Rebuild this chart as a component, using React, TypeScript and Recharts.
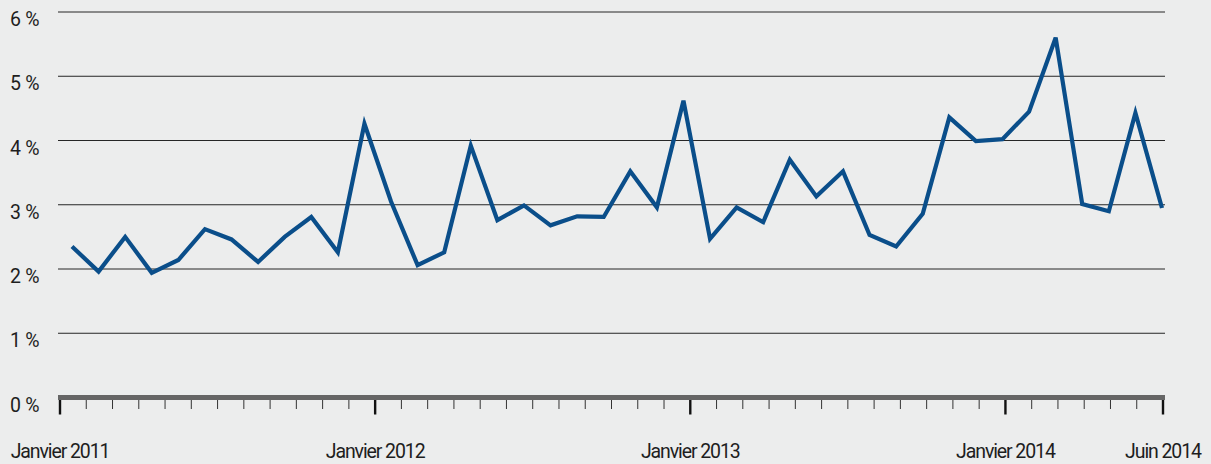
import { CartesianGrid, Line, LineChart, XAxis, YAxis } from "recharts";

// monthly rate, Jan 2011 .. Jun 2014 (%)
const rates = [
  2.35, 1.96, 2.5, 1.94, 2.14, 2.62, 2.46, 2.11, 2.5, 2.81, 2.26, 4.26,
  3.05, 2.06, 2.26, 3.92, 2.76, 2.99, 2.68, 2.82, 2.81, 3.52, 2.96, 4.62,
  2.47, 2.96, 2.73, 3.7, 3.13, 3.52, 2.53, 2.35, 2.86, 4.36, 3.99, 4.02,
  4.45, 5.6, 3.01, 2.9, 4.43, 2.95,
];

const majorTicks = [0, 12, 24, 36, 42];
const majorLabels = ["Janvier 2011", "Janvier 2012", "Janvier 2013", "Janvier 2014", "Juin 2014"];
const monthTicks = Array.from({ length: 43 }, (_, i) => i);
const pctTicks = [0, 1, 2, 3, 4, 5, 6];

const data = rates.map((rate, month) => ({ month, rate }));

const FONT = "Roboto, 'Liberation Sans', sans-serif";

function MonthTick({ x, y, payload }: any) {
  const k = majorTicks.indexOf(payload.value);
  const major = k >= 0;
  return (
    <g>
      <line
        x1={x}
        x2={x}
        y1={y + 2.5}
        y2={y + (major ? 17 : 11.5)}
        stroke={major ? "#111" : "#333"}
        strokeWidth={major ? 2.4 : 1}
      />
      {major && (
        <text
          x={x}
          y={y + 60}
          textAnchor="middle"
          fontFamily={FONT}
          fontSize={19.5}
          letterSpacing={-1.1}
          fill="#1e1e1e"
        >
          {majorLabels[k]}
        </text>
      )}
    </g>
  );
}

function PctTick({ y, payload }: any) {
  return (
    <text
      x={10}
      y={y + 7.5}
      dominantBaseline="central"
      fontFamily={FONT}
      fontSize={19.5}
      letterSpacing={-0.3}
      fill="#1e1e1e"
    >
      {`${payload.value} %`}
    </text>
  );
}

export default function App() {
  return (
    <div style={{ position: "absolute", left: 0, top: 0, width: 1211, height: 464, background: "#eceded" }}>
      <LineChart width={1211} height={464} data={data} margin={{ top: 12, right: 46, left: 0, bottom: 0 }}>
        <CartesianGrid vertical={false} stroke="#262626" strokeWidth={1} xAxisId="ticks" />
        <XAxis
          xAxisId="line"
          orientation="top"
          dataKey="month"
          type="number"
          domain={[0, 41]}
          padding={{ left: 14, right: 3 }}
          height={0}
          hide
        />
        <XAxis
          xAxisId="ticks"
          dataKey="month"
          type="number"
          domain={[0, 42]}
          allowDataOverflow
          ticks={monthTicks}
          interval={0}
          padding={{ left: 2, right: 2 }}
          height={66.5}
          tickSize={0}
          tickMargin={0}
          tickLine={false}
          axisLine={{ stroke: "#666", strokeWidth: 5 }}
          tick={<MonthTick />}
        />
        <YAxis
          type="number"
          domain={[0, 6]}
          ticks={pctTicks}
          interval={0}
          width={58}
          axisLine={false}
          tickLine={false}
          tick={<PctTick />}
        />
        <Line
          xAxisId="line"
          type="linear"
          dataKey="rate"
          stroke="#0a4e8a"
          strokeWidth={4.2}
          dot={false}
          activeDot={false}
          isAnimationActive={false}
        />
      </LineChart>
    </div>
  );
}
